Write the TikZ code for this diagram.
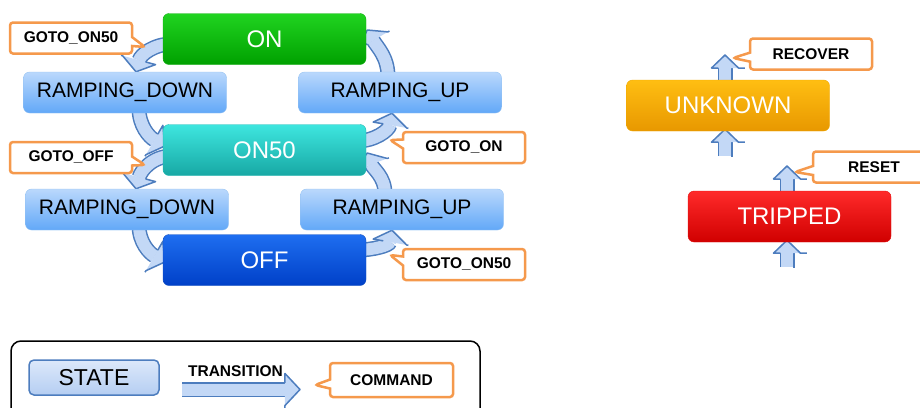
\documentclass[tikz,border=0pt]{standalone}
\usepackage{fontspec}
\setmainfont{Liberation Sans}
\usetikzlibrary{shapes,shapes.callouts,calc,decorations.markings}
\pgfdeclarelayer{bg}
\pgfsetlayers{bg,main}

\definecolor{arrowfill}{HTML}{C3D8F6}
\definecolor{arrowline}{HTML}{4D7DBE}
\definecolor{cmdline}{HTML}{F5994C}

\tikzset{%
	state/.style    = {draw, rectangle, rounded corners=6pt, inner sep=0pt,
		minimum width = 203pt, minimum height = 51pt,
		text=white, font=\fontsize{24}{28}\selectfont},
	greenstate/.style = {state, top color={rgb,255:red,32;green,212;blue,32}, bottom color={rgb,255:red,0;green,160;blue,0}, draw={rgb,255:red,20;green,176;blue,20}},
	tealstate/.style  = {state, top color={rgb,255:red,62;green,230;blue,223}, bottom color={rgb,255:red,23;green,168;blue,164}, draw={rgb,255:red,32;green,184;blue,178}},
	bluestate/.style  = {state, top color={rgb,255:red,30;green,110;blue,240}, bottom color={rgb,255:red,0;green,64;blue,200}, draw={rgb,255:red,20;green,80;blue,192}},
	amberstate/.style = {state, top color={rgb,255:red,255;green,190;blue,18}, bottom color={rgb,255:red,232;green,152;blue,0}, draw={rgb,255:red,240;green,168;blue,0}},
	redstate/.style   = {state, top color={rgb,255:red,255;green,42;blue,42}, bottom color={rgb,255:red,208;green,0;blue,0}, draw={rgb,255:red,228;green,16;blue,16}},
	ramp/.style     = {state, minimum height = 41pt, text=black, font=\fontsize{21}{25}\selectfont,
		top color={rgb,255:red,186;green,216;blue,252}, bottom color={rgb,255:red,98;green,168;blue,248}, draw={rgb,255:red,149;green,194;blue,242}},
	legstate/.style = {ramp, minimum width = 130pt, minimum height = 35pt, rounded corners=5pt, line width=1.5pt,
		font=\fontsize{23}{27}\selectfont, top color={rgb,255:red,220;green,232;blue,250}, bottom color={rgb,255:red,181;green,206;blue,242}, draw=arrowline},
	cmd/.style      = {rectangle callout, draw=cmdline, line width=2.5pt, fill=white, rounded corners=3pt,
		minimum width = 122pt, minimum height = 31pt, callout pointer width=9pt,
		font=\fontsize{15.5}{18}\selectfont\bfseries}, % Command
	lbl/.style      = {inner sep=0pt, font=\fontsize{15.5}{18}\selectfont\bfseries},
	fat/.style 2 args = {line width=12pt, draw=arrowfill, shorten >=#2,
		preaction={draw=arrowline, line width=15pt},
		postaction={decorate, decoration={markings,
			mark=at position 0.9999 with {\fill[arrowfill] (-#2-0.8pt,-6pt) rectangle (-#2,6pt);
				\fill[arrowfill] (-#2,#1) -- (0pt,0pt) -- (-#2,-#1) -- cycle;
				\draw[arrowline, line width=1.5pt, line join=round] (-#2,6.75pt) -- (-#2,#1) -- (0pt,0pt) -- (-#2,-#1) -- (-#2,-6.75pt);},
			mark=at position 0 with {\draw[arrowline, line width=1.5pt] (0pt,-7.5pt) -- (0pt,7.5pt);}}}}, % Transition
	bentarrow/.style = {fat={17pt}{12pt}},
	uparrow/.style   = {fat={13.5pt}{13pt}},
	legarrow/.style  = {fat={16pt}{15pt}}
}

\begin{document}
\begin{tikzpicture}[x=1pt,y=1pt]
	\useasboundingbox (0,0) rectangle (920,-407);

	\node[greenstate] (on)       at (264.5,-39)   {ON};
	\node[ramp]       (rdownA)   at (125,-92.5)   {RAMPING\_DOWN};
	\node[ramp]       (rupA)     at (400,-92.5)   {RAMPING\_UP};
	\node[tealstate]  (onfifty)  at (264.5,-150)  {ON50};
	\node[ramp]       (rdownB)   at (127,-209.5)  {RAMPING\_DOWN};
	\node[ramp]       (rupB)     at (402,-209.5)  {RAMPING\_UP};
	\node[bluestate]  (off)      at (264.5,-260)  {OFF};
	\node[amberstate] (unknown)  at (728,-105.5)  {UNKNOWN};
	\node[redstate]   (tripped)  at (789.5,-216.5) {TRIPPED};

	% free ends of the straight arrows
	\coordinate (outUnknown) at (725,-55);
	\coordinate (inUnknown)  at (725,-156);
	\coordinate (outTripped) at (787,-166);
	\coordinate (inTripped)  at (787,-267);

	\begin{pgfonlayer}{bg}
		\draw[bentarrow] ($(on.west)+(9,-5)$)       to[out=180,in=75]  ($(rdownA.north)+(11,0)$);
		\draw[bentarrow] ($(rdownA.south)+(14,5)$)  to[out=-90,in=150] ($(onfifty.west)+(2,4)$);
		\draw[bentarrow] ($(onfifty.west)+(9,-6)$)  to[out=180,in=75]  ($(rdownB.north)+(9,0)$);
		\draw[bentarrow] ($(rdownB.south)+(12,5)$)  to[out=-90,in=150] ($(off.west)+(2,-2)$);
		\draw[bentarrow] ($(off.east)+(-9,10)$)     to[out=0,in=-100]  ($(rupB.south)+(-10,0)$);
		\draw[bentarrow] ($(rupB.north)+(-17,-5)$)  to[out=90,in=-70]  ($(onfifty.east)+(1,-3)$);
		\draw[bentarrow] ($(onfifty.east)+(-9,9)$)  to[out=0,in=-100]  ($(rupA.south)+(-8,0)$);
		\draw[bentarrow] ($(rupA.north)+(-12,-5)$)  to[out=90,in=-60]  ($(on.east)+(1,9)$);

		\draw[uparrow] ($(unknown.north)+(-3,-1)$) -- (outUnknown);
		\draw[uparrow] (inUnknown)  -- ($(unknown.south)+(-3,2)$);
		\draw[uparrow] ($(tripped.north)+(-2.5,-1)$) -- (outTripped);
		\draw[uparrow] (inTripped)  -- ($(tripped.south)+(-2.5,2)$);
	\end{pgfonlayer}

	% commands
	\coordinate (tipOnFiftyA) at (145,-47);
	\coordinate (tipOff)      at (145,-165);
	\coordinate (tipOn)       at (390,-140);
	\coordinate (tipOnFiftyB) at (390,-255);
	\coordinate (tipRecover)  at (733,-58);
	\coordinate (tipReset)    at (795,-172);
	\node[cmd, callout absolute pointer={(tipOnFiftyA)}] (gotoOnFiftyA) at (71,-38)    {GOTO\_ON50};
	\node[cmd, callout absolute pointer={(tipOff)}]      (gotoOff)      at (71,-157.5)  {GOTO\_OFF};
	\node[cmd, callout absolute pointer={(tipOn)}]       (gotoOn)       at (464,-147.5) {GOTO\_ON};
	\node[cmd, callout absolute pointer={(tipOnFiftyB)}] (gotoOnFiftyB) at (464,-264.5) {GOTO\_ON50};
	\node[cmd, callout absolute pointer={(tipRecover)}]  (recover)      at (811,-54)    {RECOVER};
	\node[cmd, callout absolute pointer={(tipReset)}]    (reset)        at (874,-167)   {RESET};

	% legend
	\node[draw, line width=1.5pt, rounded corners=10pt, minimum width=469pt, minimum height=90pt] (legend) at (245.5,-386) {};
	\node[legstate] (legState) at (94,-377.5) {STATE};
	\coordinate (transStart) at (182,-389.5);
	\coordinate (transEnd)   at (300,-389.5);
	\draw[legarrow] (transStart) -- (transEnd);
	\node[lbl] (transLabel) at (235.5,-371) {TRANSITION};
	\coordinate (tipCommand) at (315,-385);
	\node[cmd, minimum width=123pt, minimum height=34pt, callout absolute pointer={(tipCommand)}] (legCommand) at (391.5,-380) {COMMAND};
\end{tikzpicture}
\end{document}
